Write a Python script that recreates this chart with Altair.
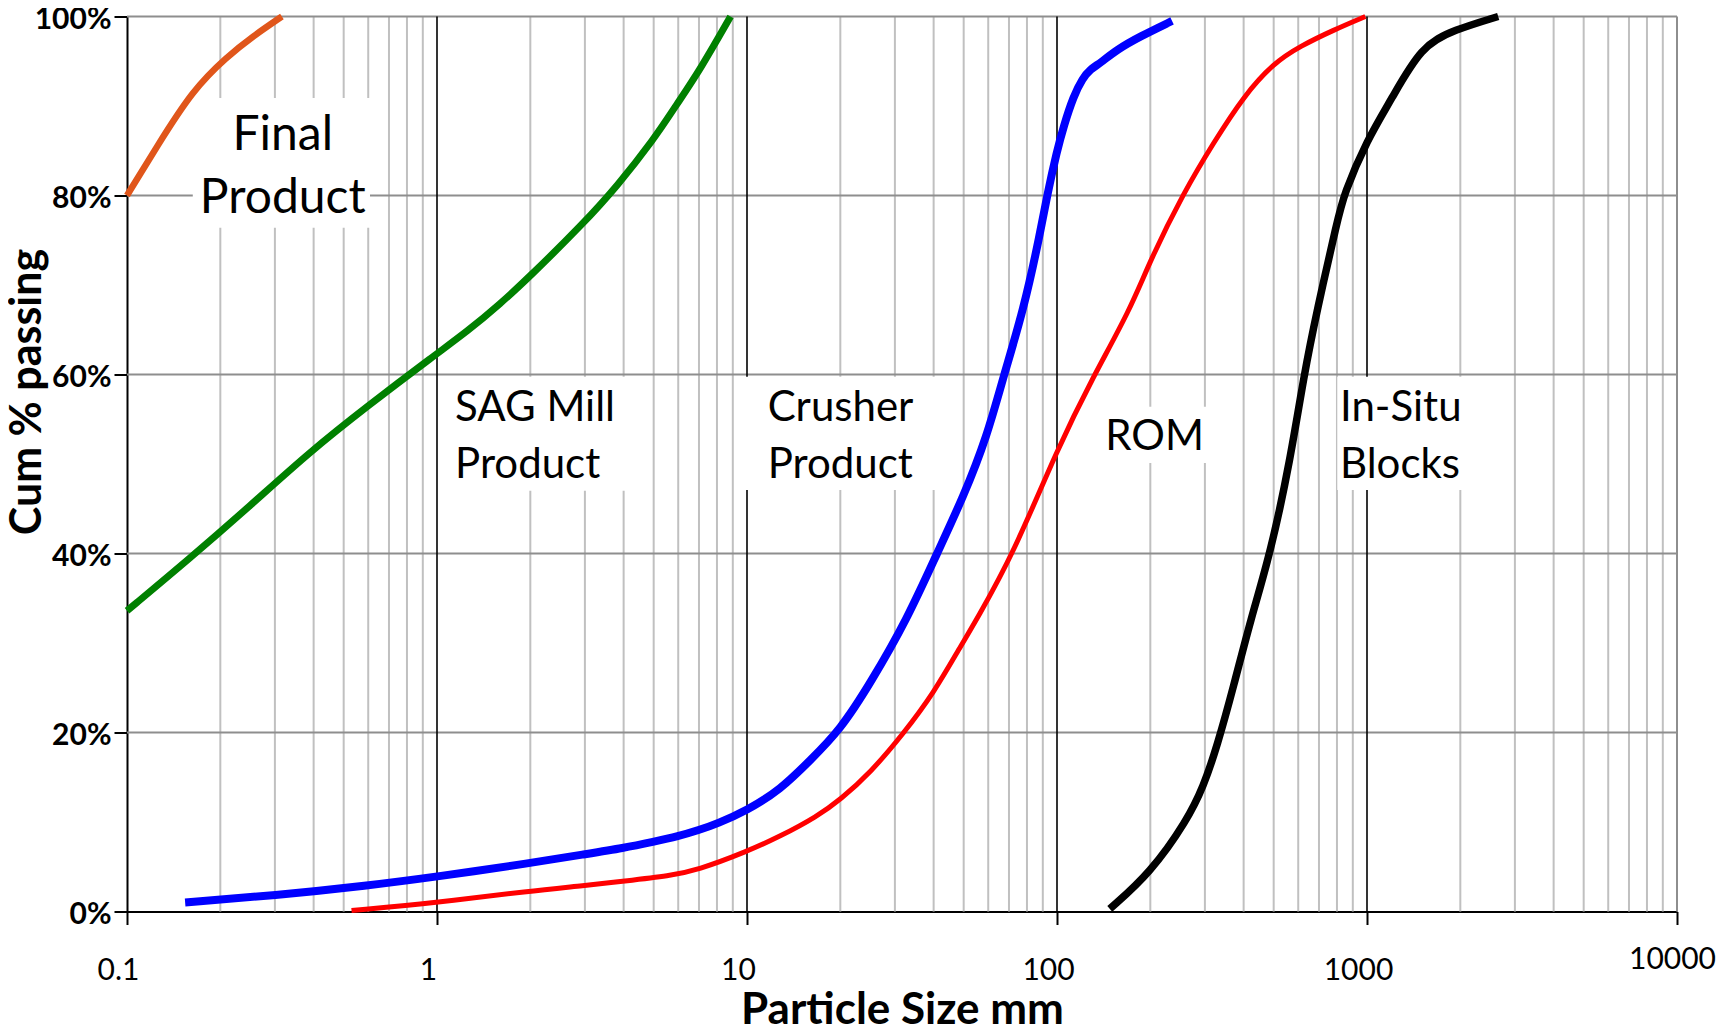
import altair as alt
import pandas as pd

# ---------------- data ----------------
final_x = [0.1, 0.125, 0.163, 0.21, 0.255, 0.316]
final_y = [80.0, 85.5, 91.8, 95.5, 97.8, 100.0]

sag_x = [0.1, 0.16, 0.249, 0.39, 0.593, 0.986, 1.25, 1.6, 2.0, 2.97, 3.8, 4.99, 5.94, 7.07, 8.85]
sag_y = [33.6, 39.5, 45.3, 51.4, 56.4, 62.2, 64.8, 67.9, 71.0, 76.9, 81.0, 86.2, 90.2, 94.1, 100.0]

crusher_x = [0.154, 0.3, 0.6, 1.0, 2.0, 3.0, 4.0, 5.0, 6.0, 7.0, 8.0, 10.0, 12.8, 16.0, 20.0, 25.0,
             32.8, 41.0, 50.0, 59.5, 67.2, 78.0, 88.3, 92.9, 100.0, 105.0, 113.0, 121.0,
             128.0, 138.0, 156.0, 186.0, 235.0]
crusher_y = [1.0, 1.8, 2.9, 3.9, 5.4, 6.4, 7.1, 7.8, 8.4, 9.1, 9.8, 11.3, 13.6, 16.9, 20.3, 25.5,
             32.6, 40.0, 46.4, 53.1, 59.8, 67.2, 75.8, 80.0, 85.0, 87.7, 91.1, 93.1,
             94.1, 94.8, 96.3, 97.8, 99.5]

rom_x = [0.53, 1.0, 2.0, 3.0, 4.0, 5.65, 6.89, 10.0, 12.8, 16.8, 20.0, 25.0, 32.0, 40.0,
         48.8, 55.0, 72.4, 100.0, 131.0, 172.0, 200.0, 256.0, 320.0, 400.0, 500.0, 610.0,
         781.0, 988.0]
rom_y = [0.1, 1.0, 2.3, 2.9, 3.4, 4.0, 4.6, 6.7, 8.4, 10.6, 12.5, 15.5, 19.9, 24.4,
         29.6, 32.6, 40.0, 51.6, 59.8, 67.2, 72.8, 80.3, 85.9, 91.1, 94.8, 96.7,
         98.5, 100.0]

insitu_x = [148.0, 200.0, 263.0, 297.0, 328.0, 371.0, 421.0, 488.0, 566.0, 625.0, 690.0,
            804.0, 841.0, 1000.0, 1197.0, 1496.0, 1910.0, 2650.0]
insitu_y = [0.3, 4.3, 10.2, 14.0, 18.4, 25.1, 32.6, 40.0, 50.5, 59.8, 67.2,
            77.3, 80.1, 86.2, 90.7, 96.7, 98.5, 100.0]

# axis ticks / labels
x_tick_values = [0.1, 1, 10, 100, 1000, 10000]
y_tick_values = [0, 20, 40, 60, 80, 100]
minor_values = [d * m for d in [0.1, 1, 10, 100, 1000] for m in range(2, 10)]
decade_values = [1, 10, 100, 1000]
border_values = [10000]
hgrid_values = [20, 40, 60, 80, 100]

# annotation labels
big_lines = ["Final", "Product"]
big_x = [0.318, 0.318]
big_y = [85.1, 78.1]

lab_lines = ["SAG Mill", "Product", "Crusher", "Product", "ROM", "In-Situ", "Blocks"]
lab_x = [1.144, 1.144, 11.66, 11.66, 143.2, 818.0, 818.0]
lab_y = [54.76, 48.43, 54.76, 48.43, 51.59, 54.76, 48.43]

box_x1 = [0.163, 1.07, 9.75, 132.9, 802.0]
box_x2 = [0.608, 4.36, 43.6, 324.5, 2159.0]
box_y1 = [76.4, 47.0, 47.1, 50.1, 47.1]
box_y2 = [90.9, 59.75, 59.75, 56.4, 59.75]

FONT = "Lato"

xscale = alt.Scale(type="log", domain=[0.1, 10000], nice=False)
yscale = alt.Scale(domain=[0, 100], nice=False, zero=False)

x_axis = alt.Axis(
    values=x_tick_values, format="~g", grid=False,
    domain=True, domainColor="black", domainWidth=2,
    ticks=True, tickColor="black", tickWidth=2, tickSize=13,
    labelFont=FONT, labelFontSize=30, labelColor="black",
    labelFlush=False, labelOverlap=False, labelBaseline="alphabetic",
    labelPadding={"condition": {"test": "datum.value >= 9999", "value": 44}, "value": 55},
    labelOffset={"condition": {"test": "datum.value >= 9999", "value": -5}, "value": -9},
    title="Particle Size mm", titleFont=FONT, titleFontSize=44, titleFontWeight="bold",
    titleColor="black", titleX=775, titleY=112, titleAlign="center",
    titleBaseline="alphabetic",
)

y_axis = alt.Axis(
    values=y_tick_values, labelExpr="datum.value + '%'", grid=False,
    domain=True, domainColor="black", domainWidth=2,
    ticks=True, tickColor="black", tickWidth=2, tickSize=13,
    labelFont=FONT, labelFontSize=30, labelFontWeight="bold", labelColor="black",
    labelPadding=3, labelOffset=3, labelBaseline="middle",
    title="Cum % passing", titleFont=FONT, titleFontSize=43, titleFontWeight="bold",
    titleColor="black", titleAngle=270, titleX=-87, titleY=375, titleAlign="center",
    titleBaseline="alphabetic",
)


def X(field):
    return alt.X(field, scale=xscale, axis=x_axis)


def Y(field):
    return alt.Y(field, scale=yscale, axis=y_axis)


minor_layer = alt.Chart(pd.DataFrame({"v": minor_values})).mark_rule(
    color="#C0C0C0", strokeWidth=2
).encode(x=X("v:Q"))

hgrid_layer = alt.Chart(pd.DataFrame({"v": hgrid_values})).mark_rule(
    color="#8E8E8E", strokeWidth=2
).encode(y=Y("v:Q"))

decade_layer = alt.Chart(pd.DataFrame({"v": decade_values})).mark_rule(
    color="black", strokeWidth=1.6
).encode(x=X("v:Q"))

border_layer = alt.Chart(pd.DataFrame({"v": border_values})).mark_rule(
    color="#8E8E8E", strokeWidth=2
).encode(x=X("v:Q"))

box_layer = alt.Chart(pd.DataFrame({"x1": box_x1, "x2": box_x2, "y1": box_y1, "y2": box_y2})).mark_rect(
    color="white"
).encode(x=X("x1:Q"), x2="x2:Q", y=Y("y1:Q"), y2="y2:Q")

big_text = alt.Chart(pd.DataFrame({"t": big_lines, "x": big_x, "y": big_y})).mark_text(
    font=FONT, fontSize=48, color="black", align="center", baseline="alphabetic"
).encode(x=X("x:Q"), y=Y("y:Q"), text="t:N")

lab_text = alt.Chart(pd.DataFrame({"t": lab_lines, "x": lab_x, "y": lab_y})).mark_text(
    font=FONT, fontSize=42, color="black", align="left", baseline="alphabetic"
).encode(x=X("x:Q"), y=Y("y:Q"), text="t:N")

series = [
    (final_x, final_y, "#E0561B", 6.5),
    (sag_x, sag_y, "#008000", 7),
    (crusher_x, crusher_y, "#0000FF", 8),
    (rom_x, rom_y, "#FF0000", 5),
    (insitu_x, insitu_y, "#000000", 7.5),
]
curve_layers = []
for xs, ys, col, w in series:
    curve_layers.append(
        alt.Chart(pd.DataFrame({"x": xs, "y": ys})).mark_line(
            color=col, strokeWidth=w, interpolate="basis"
        ).encode(x=X("x:Q"), y=Y("y:Q"))
    )

chart = alt.layer(
    minor_layer, hgrid_layer, decade_layer, border_layer, box_layer,
    big_text, lab_text, *curve_layers
).properties(
    width=1550, height=895,
    padding={"left": 119, "top": 8.5, "right": 42, "bottom": 113.5},
    autosize=alt.AutoSizeParams(type="none"),
    background="white",
).configure_view(strokeWidth=0)

chart.save("out.html", embed_options={"renderer": "svg", "actions": False})
